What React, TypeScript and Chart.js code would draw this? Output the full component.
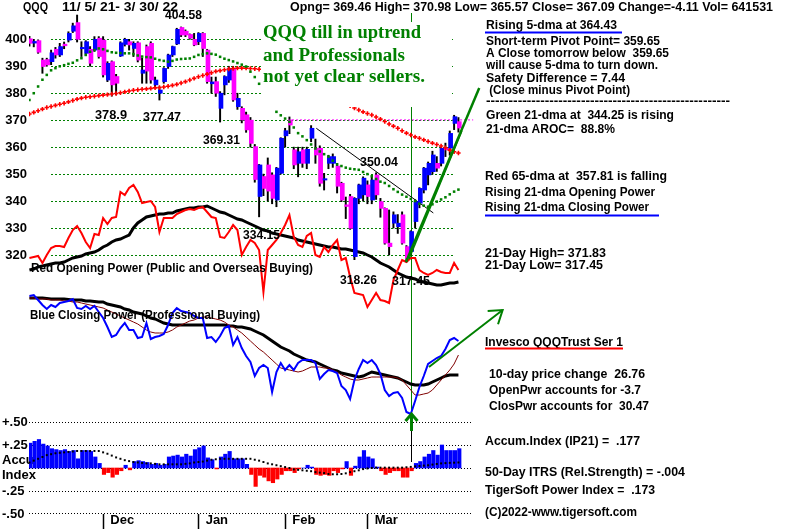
import React, { useEffect, useRef } from 'react';
import { Chart, registerables } from 'chart.js';

Chart.register(...registerables);

// ---------------- data ----------------
const monthTickIndex = [17, 39, 59, 78];
const monthLabels = ['Dec', 'Jan', 'Feb', 'Mar'];
const priceTicks = [320, 330, 340, 350, 360, 370, 380, 390, 400];
const accumTicks = [-0.5, -0.25, 0, 0.25, 0.5];
const accumTickLabels: (string | string[])[] = ['-.50', '-.25', ['Accu', 'Index'], '+.25', '+.50'];

const opens = [
  400.2, 398.6, 399.5, 392.3, 392.5, 391.7, 396.3, 394.2, 398.2, 399.7,
  403, 406.2, 396.5, 394.8, 396.3, 396, 400.4, 399.7, 384.9, 391.7,
  386.2, 393.8, 398.1, 399.1, 396.6, 398.7, 387.4, 397.3, 398.5, 383.1,
  380, 384.3, 389.9, 394.2, 398.3, 404.4, 403, 401.8, 400, 399.1,
  402.2, 396, 383.5, 384.3, 374.4, 383.1, 384.9, 389.2, 375, 374.4,
  372, 370, 360.2, 341.7, 349.1, 353.4, 349.7, 340.4, 350.3, 364.2,
  370.1, 359, 354, 359, 354, 363.3, 359.6, 359.6, 347.8, 354,
  354, 353, 346.6, 338.6, 341.7, 319.4, 341, 342.3, 346, 340.4,
  349.7, 339.8, 337.3, 324.4, 331.8, 330.5, 334.9, 323.1, 321.3, 332.4,
  339.2, 344.1, 349.7, 350.9, 354, 354, 359.6, 359.6, 368.8, 369.46,
];
const highs = [
  401.1, 400, 399.8, 393, 393, 396, 397, 398.5, 399, 402.8,
  406, 409, 399.1, 399.5, 397.3, 401, 401, 401, 391.7, 392,
  387, 399.1, 400.4, 400, 399.1, 399.1, 393, 397.9, 399.1, 386,
  382.4, 389.5, 394.5, 397.5, 404.1, 404.58, 403.5, 402, 402.2, 402.5,
  402.5, 396.3, 386, 386, 380.6, 386.5, 390, 390, 380, 375,
  373, 371, 361, 353.6, 350, 356, 350.5, 352.5, 363.5, 367,
  371.2, 360, 360, 360, 360, 368, 363, 360.5, 350.3, 357,
  357.5, 354, 347, 341.5, 342.5, 341.3, 346.3, 349, 347.5, 349,
  350.5, 341, 337.5, 336.7, 336, 335, 336, 323.5, 329, 340.5,
  345, 352.5, 354.5, 358.5, 356.5, 360, 361.5, 366, 371.83, 370.98,
];
const lows = [
  397.5, 397.2, 394.8, 387.4, 390, 390.6, 393, 393.6, 396.5, 399,
  402.5, 399, 393.6, 394, 390, 395.5, 393, 386, 384.3, 378.9,
  379.4, 393.6, 397.5, 396, 393.6, 391.6, 383.7, 383.7, 383.7, 382.3,
  377.47, 383.7, 389.2, 393.6, 398, 401, 401, 400, 397.6, 398,
  393.6, 383.7, 380, 378.8, 369.31, 379.4, 384, 377, 374, 369,
  365.5, 360, 347, 334.15, 342, 340, 339, 337.9, 350, 360,
  365, 352, 349, 352.5, 352, 362, 354, 345.5, 344.1, 352,
  352.5, 343, 339.8, 333.5, 329.5, 318.26, 339, 340, 339, 339,
  340.6, 334, 324, 320, 330, 328, 324, 317.45, 320, 330,
  337.5, 343, 346, 350, 351, 353, 356.5, 357, 366.5, 365.57,
];
const closes = [
  398.5, 399.2, 395.2, 389.9, 390.5, 395, 394.2, 397.3, 397.6, 402.2,
  405, 400, 397, 399.1, 391.1, 400, 393.6, 386.8, 391.1, 383.1,
  383.7, 398.7, 400, 397.9, 398.5, 392.3, 388.6, 388.2, 384.9, 384.9,
  381.2, 389.2, 394.2, 397.3, 403.7, 401.6, 401.6, 400.4, 397.9, 402.2,
  396.6, 384.3, 384.2, 380, 380, 386.2, 389.2, 377.5, 378.1, 370.1,
  366.4, 361.4, 348, 353.4, 344.7, 343.7, 341, 352.2, 363.3, 366.1,
  368.2, 353.4, 358.3, 354, 359.2, 367, 357.1, 346.6, 348.3, 356.5,
  356.5, 345.5, 340.4, 338, 329.9, 341, 346, 348.5, 341.7, 347.8,
  342.3, 337.3, 324.4, 323.1, 334.9, 331.8, 324.4, 318.8, 328.7, 339.8,
  344.7, 352.2, 354, 357.1, 352.2, 359.6, 359, 365.1, 371.3, 367.09,
];
const ma21 = [
  377.5, 380, 382.5, 385, 386.8, 388.5, 389.3, 390, 390.4, 390.9,
  391.3, 392.2, 393, 394.2, 395.4, 396, 396.6, 396.3, 395.7, 395.2,
  395, 394.9, 394.8, 394.8, 394.5, 394, 393.6, 393.4, 393.3, 392.8,
  392.3, 392, 391.7, 392, 392.5, 392.7, 392.8, 392.9, 393.5, 394.2,
  394.5, 394.8, 394.6, 394.3, 393.5, 392.8, 392.3, 391.8, 391.2, 390.6,
  389.9, 388, 386, 383.5, 381, 378.5, 376, 373.1, 371.8, 370.6,
  369.4, 367.3, 365.2, 364, 362.6, 361, 359.5, 358.4, 357.4, 356.5,
  355, 353.6, 353, 352.4, 352, 351.8, 351.6, 350.8, 350, 349.2,
  348.2, 347.2, 346.7, 345.6, 344.4, 343.4, 342.4, 341.6, 340.8, 340,
  339, 338.3, 337.9, 338.8, 339.8, 340.6, 341.4, 342.5, 343.5, 344.25,
];
const ma65 = [
  372.3, 372.9, 373.5, 374.1, 374.7, 375.1, 375.5, 375.9, 376.3, 376.8,
  377.3, 377.8, 378.2, 378.5, 378.7, 378.9, 379.1, 379.3, 379.5, 379.7,
  379.9, 380.2, 380.5, 380.8, 381.1, 381.3, 381.5, 381.6, 381.8, 382,
  382.1, 382.3, 382.6, 382.9, 383.3, 383.8, 384.3, 384.9, 385.5, 386.1,
  386.6, 387.1, 387.6, 388.1, 388.4, 388.7, 389, 389.2, 389.3, 389.3,
  389.3, 389.2, 389.1, 388.9, 388.4, 387.8, 387.2, 386.6, 386, 385.4,
  384.8, 384.2, 383.6, 383, 382.3, 381.6, 381, 380.3, 379.6, 378.9,
  378.2, 377.5, 376.8, 376, 375.3, 374.5, 373.8, 373.1, 372.5, 371.9,
  371.2, 370.4, 369.5, 368.6, 367.8, 367, 366.1, 365.2, 364.5, 363.8,
  363.3, 362.7, 362.1, 361.5, 361, 360.4, 359.8, 358.9, 358.3, 357.81,
];
const openPower = [
  42, 43, 44, 37, 45, 52, 54, 54, 53, 62,
  70, 74, 67, 58, 52, 66, 65, 82, 76, 82,
  83, 108, 105, 112, 115, 108, 97, 98, 99, 93,
  68, 82, 82, 82, 86, 88, 90, 91, 90, 92,
  93, 88, 83, 82, 63, 62, 68, 75, 70, 45,
  53, 60, 57, 50, 8, 50, 55, 60, 67, 75,
  85, 63, 55, 53, 64, 67, 45, 43, 53, 48,
  55, 60, 40, 42, 23, 7, 6, 5, -7, 0,
  7, 0, -1, -3, 20, 30, 40, 38, 42, 42,
  30, 27, 25, 27, 30, 28, 27, 27, 37, 30,
];
const openPowerMA = [
  30, 31, 33, 34, 35, 36, 37, 37, 38, 40,
  42, 43, 44, 46, 47, 48, 50, 53, 55, 58,
  60, 61, 63, 65, 72, 77, 80, 83, 84, 85,
  86, 86, 87, 87, 89, 90, 91, 92, 92, 93,
  93, 94, 92, 90, 88, 87, 85, 83, 81, 80,
  78, 76, 74, 72, 70, 69, 67, 66, 65, 64,
  63, 62, 60, 59, 58, 57, 56, 55, 54, 53,
  53, 52, 51, 51, 50, 49, 48, 47, 45, 43,
  40, 37, 35, 33, 30, 27, 25, 23, 22, 21,
  19, 18, 17, 16, 15, 15, 16, 17, 17, 18,
];
const closePower = [
  124, 125, 120, 115, 111, 115, 113, 117, 118, 119,
  121, 112, 111, 114, 111, 114, 108, 102, 93, 83,
  85, 92, 97, 90, 90, 82, 83, 97, 81, 83,
  84, 86, 95, 107, 112, 109, 108, 107, 104, 102,
  102, 82, 83, 78, 84, 92, 94, 75, 83, 72,
  64, 58, 44, 52, 55, 52, 28, 48, 57, 50,
  55, 50, 57, 60, 60, 60, 57, 41, 46, 50,
  49, 47, 34, 30, 21, 40, 51, 60, 57, 60,
  55, 46, 30, 24, 27, 28, 22, 8, 6, 19,
  33, 44, 56, 59, 62, 64, 71, 80, 82, 79,
];
const closePowerMA = [
  122, 122, 122, 122, 121.5, 121, 121, 121, 121, 120.5,
  120, 120, 120, 119, 119, 118.5, 118, 118, 116, 115,
  114, 113, 111, 110, 108, 107, 106, 104, 102, 101,
  99, 97, 96, 95, 95, 95, 95, 95, 95, 95,
  95, 95, 95, 95, 95, 95, 94, 94, 93, 93,
  92, 91, 89, 87, 85, 82, 79, 76, 73, 71,
  69, 66, 64, 62, 60, 59, 58, 56, 54, 52,
  50, 49, 47, 46, 45, 44, 43, 44, 46, 48,
  47, 46, 45, 44, 43, 42, 40, 38, 36, 35,
  35, 35, 36, 38, 40, 42, 44, 45, 45, 45,
];
const closePowerMA2 = [
  122, 122, 121, 121, 121, 120, 120, 120, 119, 119,
  118, 118, 117, 116, 115, 114, 113, 112, 110, 108,
  106, 104, 102, 100, 98, 96, 93, 90, 88, 87,
  87, 87, 88, 90, 93, 95, 97, 99, 100, 102,
  103, 103, 102, 101, 100, 98, 95, 93, 90, 87,
  83, 79, 75, 71, 68, 64, 60, 56, 52, 51,
  50, 49, 48, 49, 51, 53, 53, 53, 52, 52,
  50, 48, 45, 43, 41, 40, 40, 41, 42, 43,
  43, 43, 43, 43, 43, 42, 40, 35, 30, 25,
  25, 26, 27, 30, 35, 40, 45, 50, 56, 65,
];
const accum = [
  0.27, 0.29, 0.31, 0.26, 0.24, 0.21, 0.2, 0.19, 0.2, 0.18,
  0.19, 0.1, 0.19, 0.19, 0.18, 0.12, 0.05, -0.07, -0.05, -0.1,
  -0.07, -0.03, 0.03, -0.02, 0.07, 0.08, 0.07, 0.06, 0.04, 0.05,
  0.03, 0.04, 0.12, 0.13, 0.14, 0.12, 0.15, 0.13, 0.2, 0.22,
  0.24, 0.11, 0.09, -0.01, 0.12, 0.15, 0.18, 0.1, 0.1, 0.1,
  0.04, -0.07, -0.2, -0.08, -0.1, -0.14, -0.16, -0.12, -0.07, -0.03,
  -0.03, -0.05, -0.01, 0, 0.03, 0.01, -0.07, -0.08, -0.07, -0.08,
  -0.03, -0.05, -0.01, 0.07, -0.08, 0.02, 0.12, 0.19, 0.12, 0.1,
  0.01, -0.03, -0.07, -0.05, -0.03, -0.03, -0.1, -0.1, -0.03, 0.05,
  0.07, 0.12, 0.15, 0.19, 0.14, 0.25, 0.19, 0.19, 0.19, 0.21,
];
const accumMA = [
  0.06, 0.08, 0.1, 0.12, 0.14, 0.15, 0.16, 0.165, 0.17, 0.175,
  0.18, 0.185, 0.185, 0.185, 0.185, 0.185, 0.185, 0.17, 0.155, 0.135,
  0.115, 0.1, 0.085, 0.075, 0.065, 0.06, 0.055, 0.05, 0.05, 0.045,
  0.04, 0.04, 0.04, 0.04, 0.04, 0.04, 0.045, 0.05, 0.06, 0.065,
  0.07, 0.08, 0.09, 0.095, 0.1, 0.1, 0.1, 0.1, 0.1, 0.1,
  0.1, 0.1, 0.09, 0.08, 0.065, 0.05, 0.04, 0.03, 0.02, 0.01,
  0, -0.015, -0.02, -0.025, -0.03, -0.035, -0.045, -0.05, -0.055, -0.065,
  -0.068, -0.068, -0.065, -0.058, -0.045, -0.035, -0.025, -0.012, -0.005, 0,
  0.004, 0.004, 0.004, 0.004, 0.004, 0.004, 0.004, 0.008, 0.012, 0.018,
  0.022, 0.026, 0.03, 0.037, 0.044, 0.05, 0.053, 0.056, 0.058, 0.06,
];
// trend lines (index, price) / (index, closing power)
const trendUpA = [[86.9, 317.4], [103.8, 381.9]];
const trendUpB = [[87.6, 318.5], [99.8, 366]];
const trendDown = [[66.2, 367], [93.2, 335.6]];
const resistance = [[60.6, 370.1], [102.4, 370.1]];
const cpTrend = [[92.2, 53], [109.2, 110]];
const signalIndex = 88;
const priceGridSpan = [5, 98]; // index range where the price grid is drawn

// ---------------- texts ----------------
type T = [string, number, number, number];
const headerTexts: T[] = [
  ['QQQ', 23, 7, 25],
  ['11/ 5/ 21- 3/ 30/ 22', 62, 7, 116],
  ['Opng= 369.46 High= 370.98 Low= 365.57 Close= 367.09 Change=-4.11 Vol= 641531', 290, 7, 483],
];
const pivotLabels: T[] = [
  ['404.58', 165, 15, 37], ['378.9', 95, 115, 32], ['377.47', 143, 117, 38], ['369.31', 203, 140, 37],
  ['334.15', 243, 235, 37], ['350.04', 360, 162, 38], ['318.26', 340, 280, 37], ['317.45', 392, 281, 38],
];
const panelLabels: T[] = [
  ['Red Opening Power (Public and Overseas Buying)', 31, 268, 282],
  ['Blue Closing Power (Professional Buying)', 30, 315, 230],
];
const commentLines: T[] = [
  ['QQQ till in uptrend', 263, 33, 158],
  ['and Professionals', 263, 56, 142],
  ['not yet clear sellers.', 263, 77, 162],
];
const sideTexts: T[] = [
  ['Rising 5-dma at 364.43', 486, 25, 131],
  ['Short-term Pivot Point= 359.65', 486, 41, 174],
  ['A Close tomorrow below  359.65', 486, 53, 183],
  ['will cause 5-dma to turn down.', 486, 65, 172],
  ['Safety Difference = 7.44', 486, 78, 139],
  [' (Close minus Pivot Point)', 486, 90, 144],
  ['------------------------------------------------------', 486, 101, 244],
  ['Green 21-dma at  344.25 is rising', 486, 115, 188],
  ['21-dma AROC=  88.8%', 486, 129, 129],
  ['Red 65-dma at  357.81 is falling', 485, 176, 182],
  ['Rising 21-dma Opening Power', 485, 192, 170],
  ['Rising 21-dma Closing Power', 485, 207, 164],
  ['21-Day High= 371.83', 485, 253, 121],
  ['21-Day Low= 317.45', 485, 265, 118],
  ['Invesco QQQTrust Ser 1', 485, 342, 138],
  ['10-day price change  26.76', 489, 374, 156],
  ['OpenPwr accounts for -3.7', 489, 390, 152],
  ['ClosPwr accounts for  30.47', 489, 406, 160],
  ['Accum.Index (IP21) =  .177', 485, 441, 155],
  ['50-Day ITRS (Rel.Strength) = -.004', 485, 472, 200],
  ['TigerSoft Power Index =  .173', 485, 490, 170],
  ['(C)2022-www.tigersoft.com', 485, 512, 152],
];
const underlines: [number, number, number, string][] = [
  [485, 622, 32.5, '#0000ff'],
  [485, 659, 215.5, '#0000ff'],
  [485, 623, 348.5, '#ff0000'],
];

// ---------------- styling ----------------
const FAMILY = 'Arial, "Liberation Sans", Helvetica, sans-serif';
const SERIF = '"Liberation Serif", "Times New Roman", serif';
const BOLD13 = `bold 13px ${FAMILY}`;
const GREEN = '#008000';
const BLUE = '#0000ff';
const MAGENTA = '#ff00ff';
const RED = '#ff0000';

function put(ctx: CanvasRenderingContext2D, t: T, font = BOLD13, color = '#000') {
  const [s, x, y, w] = t;
  ctx.save();
  ctx.font = font;
  ctx.fillStyle = color;
  ctx.textAlign = 'left';
  ctx.textBaseline = 'middle';
  const m = ctx.measureText(s).width;
  ctx.translate(x, y);
  if (w && m > 0) ctx.scale(w / m, 1);
  ctx.fillText(s, 0, 0);
  ctx.restore();
}

const pts = (arr: number[]) => arr.map((v, i) => ({ x: i, y: v }));
const seg = (arr: number[][]) => arr.map(([x, y]) => ({ x, y }));

const annotations = {
  id: 'tigerAnnotations',
  beforeDatasetsDraw(chart: any) {
    const ctx: CanvasRenderingContext2D = chart.ctx;
    const xs = chart.scales.x;
    const yp = chart.scales.yPrice;
    const ya = chart.scales.yAccum;
    const area = chart.chartArea;
    ctx.save();
    ctx.lineWidth = 1;
    // price grid (green dotted)
    const gx1 = Math.round(xs.getPixelForValue(priceGridSpan[0]));
    const gx2 = Math.round(xs.getPixelForValue(priceGridSpan[1]));
    ctx.strokeStyle = GREEN;
    ctx.setLineDash([2, 2]);
    priceTicks.forEach((v) => {
      const y = Math.round(yp.getPixelForValue(v)) + 0.5;
      ctx.beginPath();
      ctx.moveTo(gx1, y);
      ctx.lineTo(gx2, y);
      ctx.stroke();
    });
    // accumulation grid (black dotted)
    ctx.strokeStyle = '#000';
    ctx.setLineDash([1, 2]);
    accumTicks.forEach((v) => {
      const y = Math.min(Math.round(ya.getPixelForValue(v)), Math.round(area.bottom) - 1) + 0.5;
      ctx.beginPath();
      ctx.moveTo(Math.round(area.left), y);
      ctx.lineTo(Math.round(area.right), y);
      ctx.stroke();
    });
    ctx.setLineDash([]);
    // signal vertical line
    const vx = Math.round(xs.getPixelForValue(signalIndex)) + 0.5;
    ctx.strokeStyle = GREEN;
    ctx.beginPath();
    ctx.moveTo(vx, 13);
    ctx.lineTo(vx, 416);
    ctx.stroke();
    ctx.strokeStyle = '#000';
    ctx.beginPath();
    ctx.moveTo(vx, 428);
    ctx.lineTo(vx, 462);
    ctx.stroke();
    ctx.restore();
  },
  afterDatasetsDraw(chart: any) {
    const ctx: CanvasRenderingContext2D = chart.ctx;
    const xs = chart.scales.x;
    const ycp = chart.scales.yCP;
    const vx = Math.round(xs.getPixelForValue(signalIndex)) + 0.5;
    ctx.save();
    // green up arrow at signal
    ctx.strokeStyle = GREEN;
    ctx.lineWidth = 3;
    ctx.beginPath();
    ctx.moveTo(vx, 431);
    ctx.lineTo(vx, 415);
    ctx.stroke();
    ctx.beginPath();
    ctx.moveTo(vx - 6, 421);
    ctx.lineTo(vx, 414);
    ctx.lineTo(vx + 6, 421);
    ctx.stroke();
    // closing power trend arrow
    const x1 = xs.getPixelForValue(cpTrend[0][0]);
    const y1 = ycp.getPixelForValue(cpTrend[0][1]);
    const x2 = xs.getPixelForValue(cpTrend[1][0]);
    const y2 = ycp.getPixelForValue(cpTrend[1][1]);
    ctx.lineWidth = 2;
    ctx.beginPath();
    ctx.moveTo(x1, y1);
    ctx.lineTo(x2, y2);
    ctx.stroke();
    const ang = Math.atan2(y1 - y2, x1 - x2);
    const hl = 15;
    ctx.beginPath();
    ctx.moveTo(x2 + hl * Math.cos(ang - 0.6), y2 + hl * Math.sin(ang - 0.6));
    ctx.lineTo(x2, y2);
    ctx.lineTo(x2 + hl * Math.cos(ang + 0.6), y2 + hl * Math.sin(ang + 0.6));
    ctx.stroke();
    // white box behind comment
    ctx.fillStyle = '#ffffff';
    ctx.fillRect(261, 22, 191, 85);
    ctx.restore();

    headerTexts.forEach((t) => put(ctx, t));
    pivotLabels.forEach((t) => put(ctx, t));
    panelLabels.forEach((t) => put(ctx, t));
    commentLines.forEach((t) => put(ctx, t, `bold 18px ${SERIF}`, GREEN));
    sideTexts.forEach((t) => put(ctx, t));
    ctx.save();
    ctx.lineWidth = 2;
    underlines.forEach(([a, b, y, c]) => {
      ctx.strokeStyle = c;
      ctx.beginPath();
      ctx.moveTo(a, y);
      ctx.lineTo(b, y);
      ctx.stroke();
    });
    ctx.restore();
  },
};

export default function App() {
  const ref = useRef<HTMLCanvasElement>(null);
  useEffect(() => {
    const canvas = ref.current;
    if (!canvas) return;
    const font = { family: FAMILY, size: 13, weight: 'bold' as const };
    const chart = new Chart(canvas, {
      type: 'line',
      data: {
        datasets: [
          {
            type: 'line', yAxisID: 'yPrice', data: pts(ma21), showLine: false,
            pointStyle: 'rect', pointRadius: 1.8, pointBackgroundColor: GREEN, pointBorderWidth: 0, order: 3,
          },
          {
            type: 'line', yAxisID: 'yPrice', data: pts(ma65), showLine: false,
            pointStyle: 'cross', pointRadius: 2.2, pointBorderColor: RED, pointBorderWidth: 1.6, order: 3,
          },
          {
            type: 'line', yAxisID: 'yPrice', data: seg(trendUpA), borderColor: GREEN, borderWidth: 2.5,
            pointRadius: 0, clip: false as any, order: 1,
          },
          {
            type: 'line', yAxisID: 'yPrice', data: seg(trendUpB), borderColor: GREEN, borderWidth: 1.5,
            pointRadius: 0, clip: false as any, order: 1,
          },
          {
            type: 'line', yAxisID: 'yPrice', data: seg(trendDown), borderColor: '#000', borderWidth: 1,
            pointRadius: 0, order: 6,
          },
          {
            type: 'line', yAxisID: 'yPrice', data: seg(resistance), borderColor: MAGENTA, borderWidth: 1,
            borderDash: [2, 2], pointRadius: 0, clip: false as any, order: 6,
          },
          {
            type: 'bar', yAxisID: 'yPrice',
            data: opens.map((o, i) => ({ x: i + 0.2, y: [o, closes[i]] })) as any,
            backgroundColor: opens.map((o, i) => (closes[i] >= o ? BLUE : MAGENTA)),
            barThickness: 4, grouped: false, minBarLength: 1, order: 4,
          },
          {
            type: 'bar', yAxisID: 'yPrice',
            data: lows.map((l, i) => ({ x: i, y: [l, highs[i]] })) as any,
            backgroundColor: '#000', barThickness: 1.3, grouped: false, order: 5,
          },
          {
            type: 'line', yAxisID: 'yOP', data: pts(openPower), borderColor: RED, borderWidth: 2,
            pointRadius: 0, order: 7,
          },
          {
            type: 'line', yAxisID: 'yOP', data: pts(openPowerMA), borderColor: '#000', borderWidth: 3,
            pointRadius: 0, order: 7,
          },
          {
            type: 'line', yAxisID: 'yCP', data: pts(closePowerMA2), borderColor: '#800000', borderWidth: 1,
            pointRadius: 0, order: 8,
          },
          {
            type: 'line', yAxisID: 'yCP', data: pts(closePowerMA), borderColor: '#000', borderWidth: 3,
            pointRadius: 0, order: 8,
          },
          {
            type: 'line', yAxisID: 'yCP', data: pts(closePower), borderColor: BLUE, borderWidth: 2,
            pointRadius: 0, order: 7,
          },
          {
            type: 'bar', yAxisID: 'yAccum',
            data: accum.map((v, i) => ({ x: i + 0.2, y: v })) as any,
            backgroundColor: accum.map((v) => (v >= 0 ? BLUE : RED)),
            barThickness: 3.5, grouped: false, order: 9,
          },
          {
            type: 'line', yAxisID: 'yAccum', data: pts(accumMA), showLine: false,
            pointStyle: 'rect', pointRadius: 1.4, pointBackgroundColor: '#000', pointBorderWidth: 0, order: 2,
          },
        ] as any,
      },
      options: {
        animation: false,
        responsive: false,
        devicePixelRatio: 1,
        events: [],
        layout: { padding: { left: 2, right: 329, top: 0, bottom: 0 }, autoPadding: false } as any,
        plugins: { legend: { display: false }, tooltip: { enabled: false }, title: { display: false } },
        scales: {
          x: {
            type: 'linear', position: 'bottom', min: -0.1, max: 101.9, offset: false,
            afterFit: (s: any) => { s.height = 18; s.paddingLeft = 0; s.paddingRight = 0; },
            afterBuildTicks: (s: any) => { s.ticks = monthTickIndex.map((v) => ({ value: v })); },
            ticks: {
              autoSkip: false, maxRotation: 0, minRotation: 0, align: 'start', padding: -16,
              color: '#000', font,
              callback: (v: any) => {
                const k = monthTickIndex.indexOf(v);
                return k >= 0 ? '  ' + monthLabels[k] : '';
              },
            },
            grid: {
              display: true, offset: false, drawOnChartArea: false, drawTicks: true, tickLength: 15,
              color: '#000', tickColor: '#000', tickWidth: 1.5,
            },
            border: { display: false },
          },
          yPrice: {
            type: 'linear', position: 'left', weight: 0, min: 223.93, max: 414.58, beginAtZero: false,
            afterFit: (s: any) => { s.width = 27; s.paddingTop = 0; s.paddingBottom = 0; },
            afterBuildTicks: (s: any) => { s.ticks = priceTicks.map((v) => ({ value: v })); },
            ticks: { padding: 2, color: '#000', font, callback: (v: any) => String(v) },
            grid: { display: false, drawTicks: false },
            border: { display: false },
          },
          yAccum: {
            type: 'linear', position: 'left', weight: 1, min: -0.5, max: 5.087, beginAtZero: false,
            afterFit: (s: any) => { s.width = 0; s.paddingTop = 0; s.paddingBottom = 0; },
            afterBuildTicks: (s: any) => { s.ticks = accumTicks.map((v) => ({ value: v })); },
            ticks: {
              mirror: true, crossAlign: 'near', padding: 0, color: '#000', font,
              callback: (v: any) => {
                const k = accumTicks.indexOf(v);
                return k >= 0 ? accumTickLabels[k] : '';
              },
            },
            grid: { display: false, drawTicks: false },
            border: { display: false },
          },
          yOP: { type: 'linear', display: false, min: -214, max: 300 },
          yCP: { type: 'linear', display: false, min: -94, max: 420 },
        } as any,
      },
      plugins: [annotations],
    });
    return () => chart.destroy();
  }, []);
  return (
    <div style={{ position: 'absolute', left: 0, top: 0, width: 800, height: 532, background: '#fff' }}>
      <canvas ref={ref} width={800} height={532} style={{ display: 'block', width: 800, height: 532 }} />
    </div>
  );
}
